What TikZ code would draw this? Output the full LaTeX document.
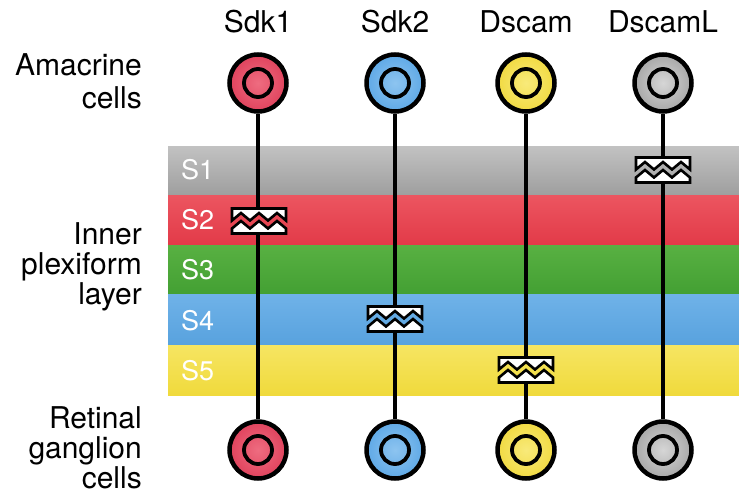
\documentclass[tikz,border=0pt]{standalone}
\usepackage{fontspec}
\setmainfont{TeX Gyre Heros}

% band colours of the inner plexiform layer
\definecolor{sOneTop}{HTML}{C2C2C2}
\definecolor{sOneBot}{HTML}{9E9E9E}
\definecolor{sOneMid}{HTML}{AFAFAF}
\definecolor{sTwoTop}{HTML}{EC5560}
\definecolor{sTwoBot}{HTML}{E23A48}
\definecolor{sTwoMid}{HTML}{E84652}
\definecolor{sThreeTop}{HTML}{58B042}
\definecolor{sThreeBot}{HTML}{43A033}
\definecolor{sFourTop}{HTML}{6FB2E8}
\definecolor{sFourBot}{HTML}{58A2DE}
\definecolor{sFourMid}{HTML}{63AAE3}
\definecolor{sFiveTop}{HTML}{F6E562}
\definecolor{sFiveBot}{HTML}{F0DA3C}
\definecolor{sFiveMid}{HTML}{F3E04E}

% cell body colours
\definecolor{redIn}{HTML}{EE6C80}
\definecolor{redOut}{HTML}{E0435D}
\definecolor{blueIn}{HTML}{8DC4F0}
\definecolor{blueOut}{HTML}{5FA9E6}
\definecolor{yelIn}{HTML}{F8EA7A}
\definecolor{yelOut}{HTML}{F1DA42}
\definecolor{grayIn}{HTML}{D6D6D6}
\definecolor{grayOut}{HTML}{A8A8A8}

\begin{document}
\begin{tikzpicture}[x=1pt,y=-1pt,
  lbl/.style={font=\fontsize{30}{30}\selectfont, inner sep=0pt, text=black},
  sidelbl/.style={lbl, anchor=base east},
  toplbl/.style={lbl, anchor=base},
  layerlbl/.style={font=\fontsize{27}{27}\selectfont, inner sep=0pt, text=white, anchor=base west},
  cell/.style={circle, draw=black, line width=4.5pt, minimum size=57pt, inner sep=0pt},
  nucleus/.style={circle, draw=black, line width=3.8pt, minimum size=28pt, inner sep=0pt},
  axon/.style={line width=3.6pt},
  piece/.style={fill=white, draw=black, line width=2.6pt, line join=miter},
  pics/adhesion/.style={code={
    % hide the neurite inside the zigzag gap
    \fill[#1] (-3,-8) rectangle (3,8);
    % upper half
    \draw[piece] (-27,-12.5) -- (27,-12.5) -- (27,-0.5) -- (18,-8) -- (9,-0.5)
      -- (0,-8) -- (-9,-0.5) -- (-18,-8) -- (-27,-0.5) -- cycle;
    % lower half
    \draw[piece] (-27,12.5) -- (27,12.5) -- (27,7.5) -- (18,0) -- (9,7.5)
      -- (0,0) -- (-9,7.5) -- (-18,0) -- (-27,7.5) -- cycle;
  }},
]
\useasboundingbox (0,0) rectangle (739,495);

% column headings
\node[toplbl] (hSdkA) at (258,33) {Sdk1};
\node[toplbl] (hSdkB) at (395,33) {Sdk2};
\node[toplbl] (hDs) at (526,33) {Dscam};
\node[toplbl] (hDsL) at (663,33) {DscamL};

% row headings
\node[sidelbl] (amA) at (142,75) {Amacrine};
\node[sidelbl] (amB) at (142,108) {cells};
\node[sidelbl] (ipA) at (142,244) {Inner};
\node[sidelbl] (ipB) at (142,274) {plexiform};
\node[sidelbl] (ipC) at (142,304) {layer};
\node[sidelbl] (rgA) at (142,428) {Retinal};
\node[sidelbl] (rgB) at (142,458) {ganglion};
\node[sidelbl] (rgC) at (142,488) {cells};

% sublaminae S1-S5
\shade[top color=sOneTop, bottom color=sOneBot] (168,146) rectangle (739,195.5);
\shade[top color=sTwoTop, bottom color=sTwoBot] (168,195.5) rectangle (739,245.5);
\shade[top color=sThreeTop, bottom color=sThreeBot] (168,245.5) rectangle (739,294.5);
\shade[top color=sFourTop, bottom color=sFourBot] (168,294.5) rectangle (739,345);
\shade[top color=sFiveTop, bottom color=sFiveBot] (168,345) rectangle (739,395);
\node[layerlbl] (lS1) at (181,179) {S1};
\node[layerlbl] (lS2) at (181,229) {S2};
\node[layerlbl] (lS3) at (181,279) {S3};
\node[layerlbl] (lS4) at (181,330) {S4};
\node[layerlbl] (lS5) at (181,380) {S5};

% amacrine cells (top) and retinal ganglion cells (bottom)
\foreach \nm/\x/\ci/\co in {a/258/redIn/redOut, b/395/blueIn/blueOut,
                           c/526/yelIn/yelOut, d/663/grayIn/grayOut} {
  \node[cell, inner color=\ci, outer color=\co] (am\nm) at (\x,83) {};
  \node[nucleus] (amn\nm) at (am\nm.center) {};
  \node[cell, inner color=\ci, outer color=\co] (rg\nm) at (\x,450) {};
  \node[nucleus] (rgn\nm) at (rg\nm.center) {};
  \draw[axon] (am\nm.south) -- (rg\nm.north);
}

% homophilic adhesion sites
\pic at (259,221) {adhesion=sTwoMid};
\pic at (395,319) {adhesion=sFourMid};
\pic at (526,370) {adhesion=sFiveMid};
\pic at (663,170) {adhesion=sOneMid};
\end{tikzpicture}
\end{document}
